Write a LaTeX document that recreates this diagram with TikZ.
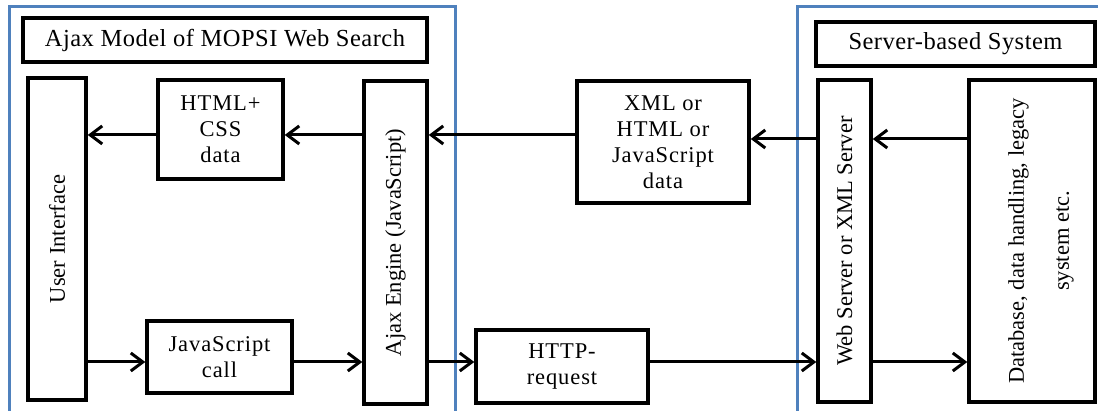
\documentclass[tikz,border=0pt]{standalone}
\usepackage{fontspec}
\setmainfont{Liberation Serif}
\usetikzlibrary{arrows.meta}
\definecolor{frameblue}{RGB}{79,129,189}
\tikzset{
  box/.style={draw=black, line width=3.5pt, inner sep=0pt, align=center,
    font=\fontsize{22.5}{26}\selectfont\addfontfeatures{LetterSpace=4}},
  titlebox/.style={box, font=\fontsize{24.5}{28}\selectfont\addfontfeatures{LetterSpace=2}},
  vbox/.style={box, font=\fontsize{22.5}{26}\selectfont},
  vtext/.style={rotate=90, align=center, inner sep=0pt, font=\fontsize{22.5}{26}\selectfont},
  arr/.style={line width=3pt,
    -{Straight Barb[length=12pt,width=18pt,line width=3pt]}},
  frame/.style={draw=frameblue, line width=3pt},
}
\begin{document}
\begin{tikzpicture}[x=1pt,y=-1pt]
\useasboundingbox (0,0) rectangle (1098,411);

% client and server frames (open at the bottom)
\draw[frame] (9,416) -- (9,7) -- (455,7) -- (455,416);
\draw[frame] (797,416) -- (797,7) -- (1104,7);

% client side
\node[titlebox, minimum width=404, minimum height=44] (ctitle) at (225,40) {Ajax Model of MOPSI Web Search};
\node[vbox, minimum width=58, minimum height=322,
      label={[vtext]center:User Interface}] (ui) at (57,239) {};
\node[box, minimum width=125, minimum height=99] (html) at (220.5,129.5) {HTML+\\CSS\\data};
\node[box, minimum width=145, minimum height=72] (jscall) at (219.5,357) {JavaScript\\call};
\node[vbox, minimum width=63, minimum height=323,
      label={[vtext]center:Ajax Engine (JavaScript)}] (ajax) at (395.5,242.5) {};

% transfer boxes
\node[box, minimum width=172, minimum height=122] (xml) at (663,142) {XML or\\HTML or\\JavaScript\\data};
\node[box, minimum width=172, minimum height=73] (http) at (562,366.5) {HTTP-\\request};

% server side
\node[titlebox, minimum width=279, minimum height=44] (stitle) at (955.5,44) {Server-based System};
\node[vbox, minimum width=53, minimum height=322,
      label={[vtext]center:Web Server or XML Server}] (web) at (844.5,241) {};
\node[vbox, minimum width=126, minimum height=322] (db) at (1032,241) {};
\node[vtext] (dbtext) at ([xshift=9pt]db.center) {Database, data handling, legacy\\[19pt]system etc.};

% rows of the connectors
\coordinate (up) at (0,135);
\coordinate (ups) at (0,139);
\coordinate (down) at (0,362);

% response path
\draw[arr] (db.west |- ups) -- (web.east |- ups);
\draw[arr] (web.west |- ups) -- (xml.east |- ups);
\draw[arr] (xml.west |- up) -- (ajax.east |- up);
\draw[arr] (ajax.west |- up) -- (html.east |- up);
\draw[arr] (html.west |- up) -- (ui.east |- up);

% request path
\draw[arr] (ui.east |- down) -- (jscall.west |- down);
\draw[arr] (jscall.east |- down) -- (ajax.west |- down);
\draw[arr] (ajax.east |- down) -- (http.west |- down);
\draw[arr] (http.east |- down) -- (web.west |- down);
\draw[arr] (web.east |- down) -- (db.west |- down);
\end{tikzpicture}
\end{document}
